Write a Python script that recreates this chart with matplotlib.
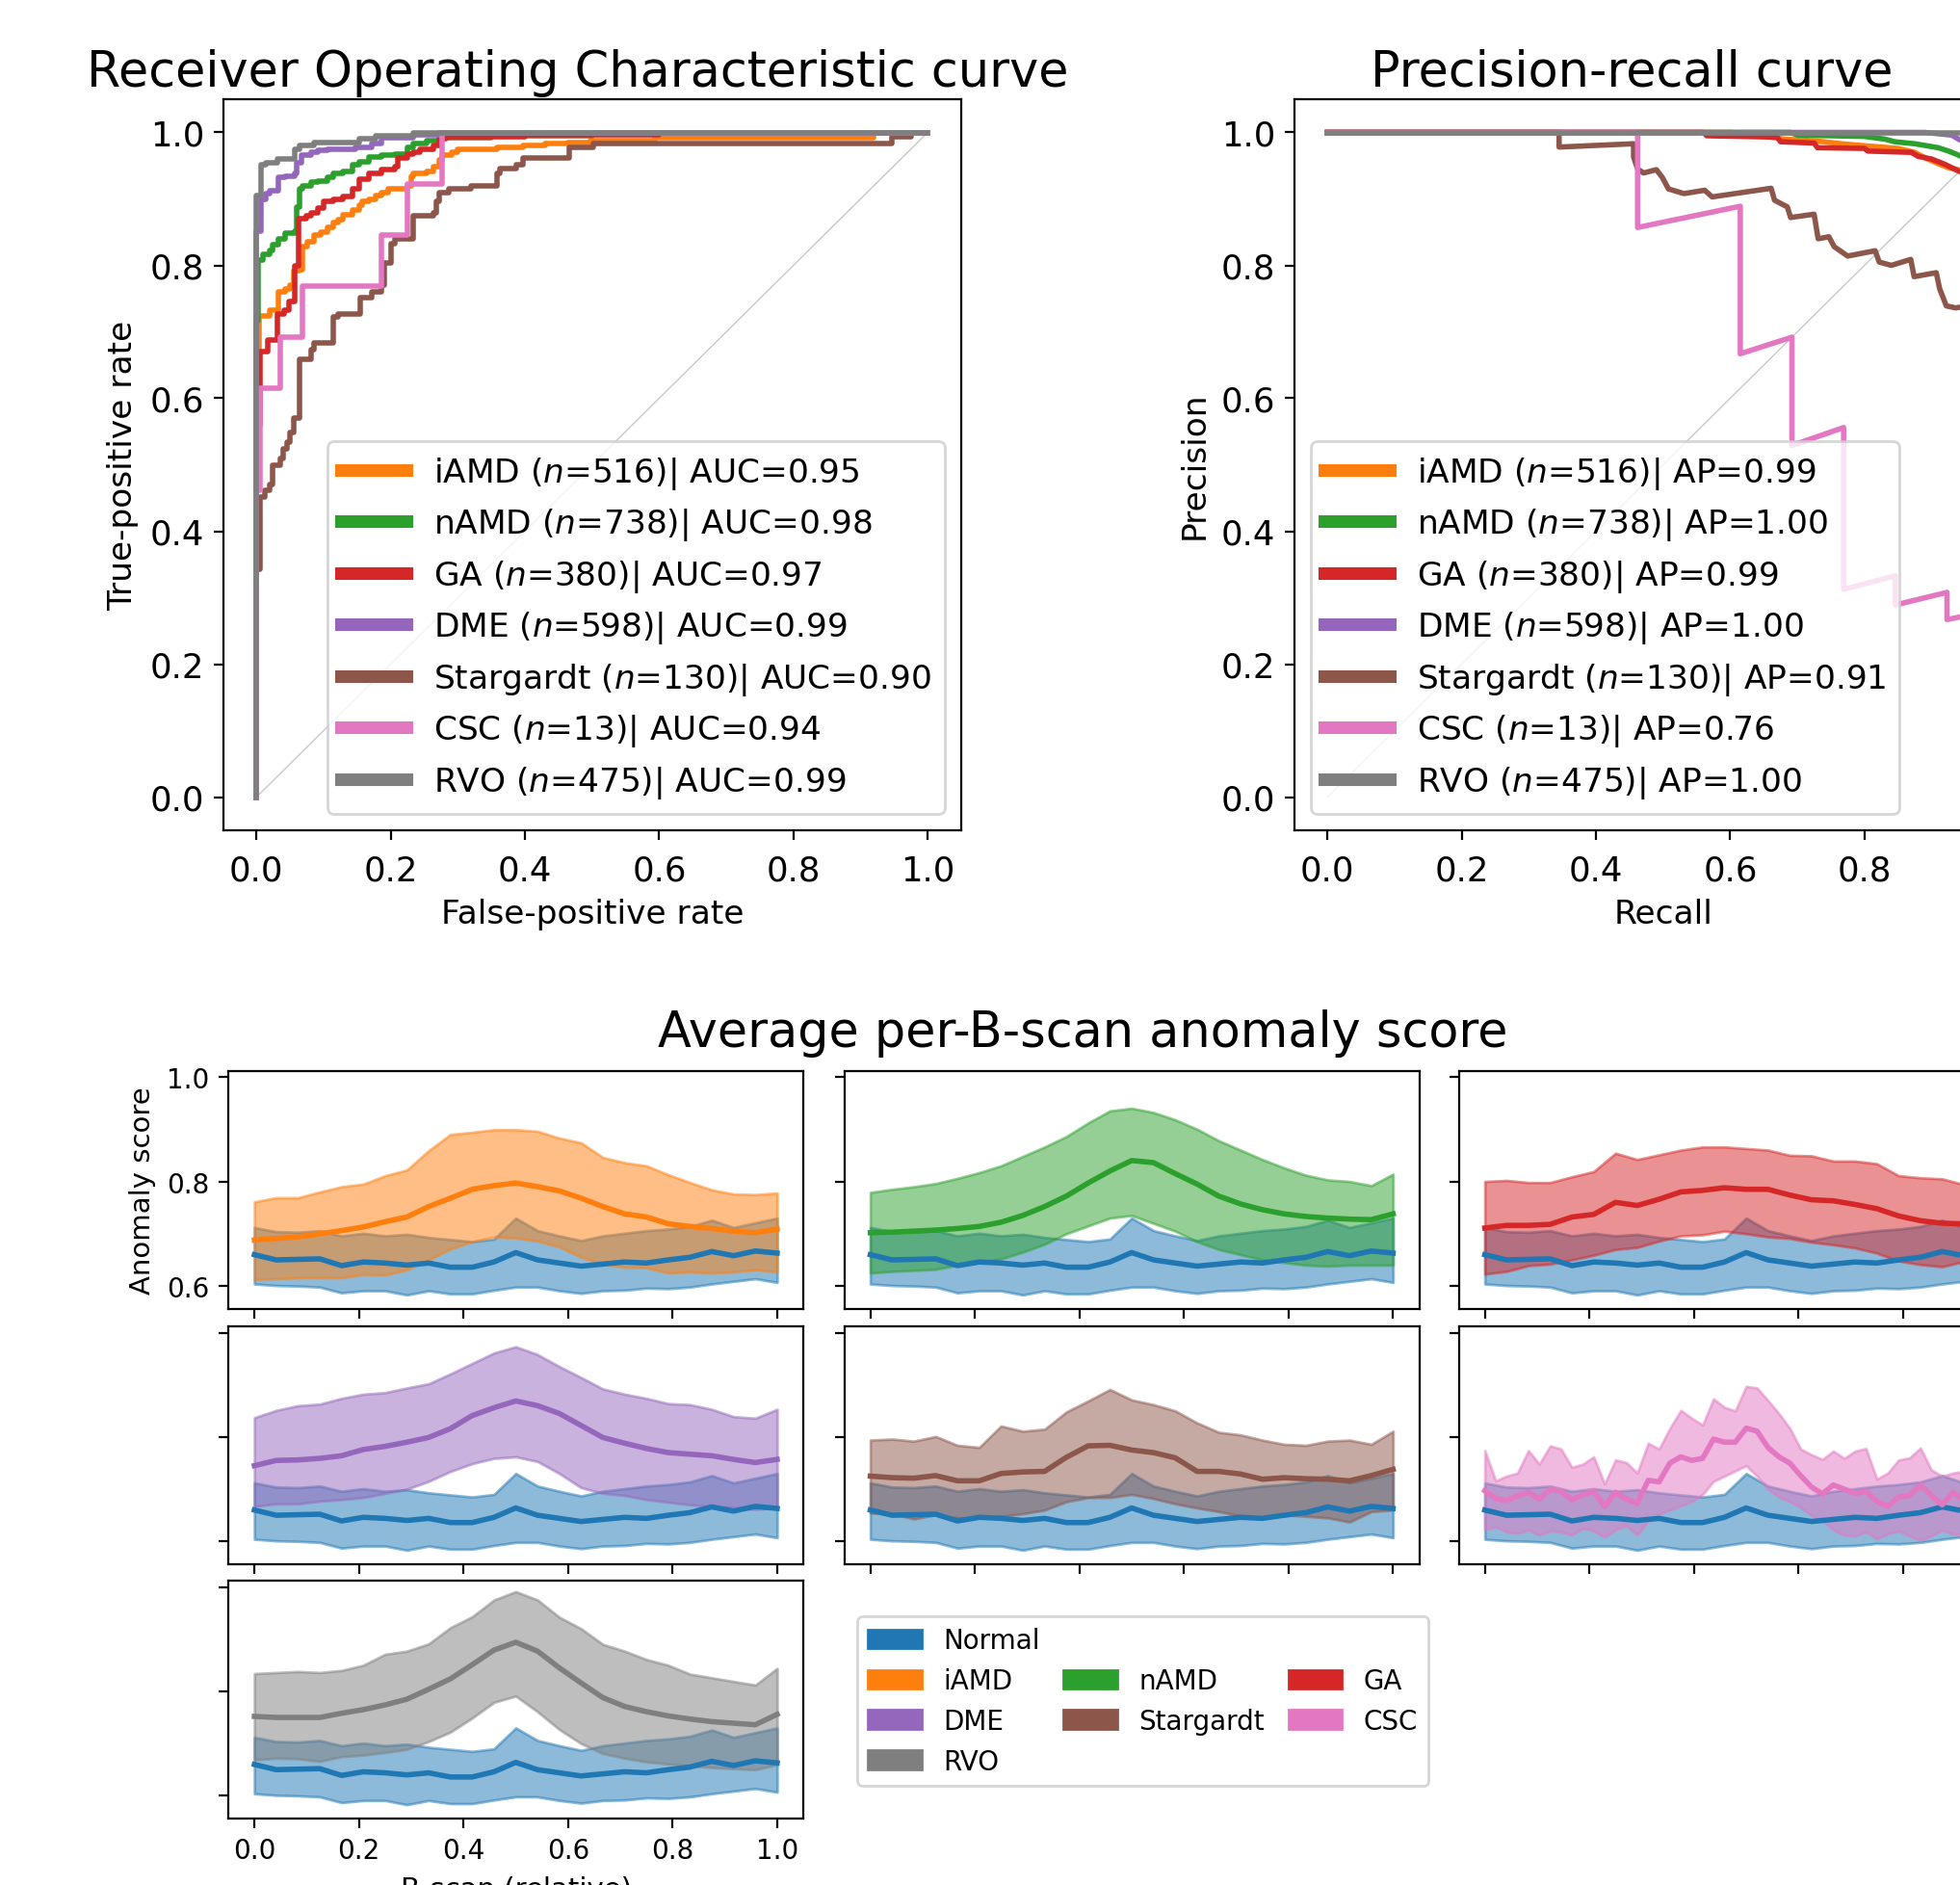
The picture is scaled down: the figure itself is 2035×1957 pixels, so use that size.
import numpy as np
import matplotlib
matplotlib.use("Agg")
import matplotlib.pyplot as plt
from matplotlib.patches import Patch

# ---------------- data ----------------
diseases = ["iAMD", "nAMD", "GA", "DME", "Stargardt", "CSC", "RVO"]
n_cases = [516, 738, 380, 598, 130, 13, 475]
auc_vals = ["0.95", "0.98", "0.97", "0.99", "0.90", "0.94", "0.99"]
ap_vals = ["0.99", "1.00", "0.99", "1.00", "0.91", "0.76", "1.00"]
colors = ["tab:orange", "tab:green", "tab:red", "tab:purple", "tab:brown", "tab:pink", "tab:gray"]
normal_color = "tab:blue"

# ROC curves (false-positive rate, true-positive rate), step corners
roc_fpr_iamd = [0, 0, 0.004, 0.019, 0.033, 0.043, 0.05, 0.055, 0.064, 0.069, 0.076, 0.086, 0.096, 0.105, 0.115, 0.122, 0.129, 0.143, 0.153, 0.158, 0.167, 0.177, 0.186, 0.196, 0.225, 0.23, 0.234, 0.253, 0.263, 0.272, 0.277, 0.291, 0.3, 0.358, 0.397, 0.43, 0.464, 0.497, 0.593, 0.92, 1.0]
roc_tpr_iamd = [0, 0.66, 0.724, 0.732, 0.76, 0.765, 0.77, 0.792, 0.794, 0.828, 0.835, 0.845, 0.85, 0.857, 0.864, 0.869, 0.876, 0.884, 0.891, 0.896, 0.9, 0.905, 0.91, 0.915, 0.92, 0.934, 0.939, 0.942, 0.949, 0.958, 0.966, 0.97, 0.975, 0.978, 0.98, 0.983, 0.985, 0.988, 0.992, 1.0, 1.0]
roc_fpr_namd = [0, 0, 0.003, 0.01, 0.019, 0.024, 0.033, 0.043, 0.057, 0.06, 0.064, 0.069, 0.081, 0.091, 0.105, 0.115, 0.129, 0.143, 0.153, 0.167, 0.186, 0.206, 0.225, 0.234, 0.253, 0.272, 0.35, 0.5, 1.0]
roc_tpr_namd = [0, 0.716, 0.808, 0.816, 0.823, 0.831, 0.84, 0.848, 0.852, 0.888, 0.915, 0.92, 0.925, 0.927, 0.932, 0.939, 0.942, 0.951, 0.956, 0.963, 0.966, 0.968, 0.978, 0.983, 0.988, 0.992, 0.995, 1.0, 1.0]
roc_fpr_ga = [0, 0, 0.005, 0.017, 0.031, 0.041, 0.048, 0.057, 0.062, 0.074, 0.081, 0.091, 0.1, 0.115, 0.129, 0.143, 0.153, 0.167, 0.186, 0.206, 0.21, 0.225, 0.234, 0.244, 0.263, 0.272, 0.282, 0.4, 0.6, 1.0]
roc_tpr_ga = [0, 0.56, 0.671, 0.688, 0.727, 0.732, 0.746, 0.799, 0.871, 0.874, 0.879, 0.886, 0.896, 0.9, 0.903, 0.915, 0.929, 0.939, 0.944, 0.949, 0.961, 0.968, 0.97, 0.975, 0.98, 0.99, 0.994, 0.997, 1.0, 1.0]
roc_fpr_dme = [0, 0, 0.007, 0.014, 0.019, 0.033, 0.043, 0.057, 0.06, 0.067, 0.081, 0.091, 0.105, 0.148, 0.172, 0.186, 0.234, 0.272, 1.0]
roc_tpr_dme = [0, 0.852, 0.9, 0.908, 0.913, 0.932, 0.934, 0.939, 0.954, 0.966, 0.97, 0.973, 0.975, 0.978, 0.983, 0.992, 0.996, 1.0, 1.0]
roc_fpr_stargardt = [0, 0, 0.005, 0.012, 0.019, 0.024, 0.035, 0.04, 0.045, 0.05, 0.055, 0.064, 0.081, 0.086, 0.115, 0.122, 0.155, 0.172, 0.186, 0.191, 0.2, 0.206, 0.234, 0.263, 0.268, 0.272, 0.287, 0.32, 0.358, 0.363, 0.387, 0.397, 0.466, 0.502, 0.947, 0.975, 1.0]
roc_tpr_stargardt = [0, 0.343, 0.451, 0.461, 0.47, 0.5, 0.51, 0.524, 0.534, 0.548, 0.57, 0.659, 0.673, 0.683, 0.722, 0.727, 0.751, 0.76, 0.77, 0.804, 0.833, 0.84, 0.874, 0.879, 0.896, 0.91, 0.915, 0.92, 0.939, 0.946, 0.951, 0.961, 0.978, 0.983, 0.993, 1.0, 1.0]
roc_fpr_csc = [0, 0, 0.005, 0.036, 0.069, 0.186, 0.225, 0.277, 1.0]
roc_tpr_csc = [0, 0.462, 0.615, 0.692, 0.769, 0.846, 0.923, 1.0, 1.0]
roc_fpr_rvo = [0, 0, 0.006, 0.014, 0.031, 0.057, 0.064, 0.086, 0.153, 0.177, 0.234, 1.0]
roc_tpr_rvo = [0, 0.905, 0.951, 0.955, 0.96, 0.975, 0.98, 0.985, 0.99, 0.995, 1.0, 1.0]

# Precision-recall curves (recall, precision)
pr_rec_iamd = [0, 0.6, 0.645, 0.68, 0.73, 0.765, 0.8, 0.85, 0.875, 0.89, 0.91, 0.925, 0.94, 0.97, 1.0]
pr_prec_iamd = [1.0, 1.0, 0.995, 0.99, 0.987, 0.983, 0.98, 0.976, 0.97, 0.962, 0.953, 0.947, 0.944, 0.93, 0.9]
pr_rec_namd = [0, 0.69, 0.70, 0.80, 0.83, 0.845, 0.875, 0.91, 0.925, 0.94, 0.97, 1.0]
pr_prec_namd = [1.0, 1.0, 0.996, 0.994, 0.99, 0.986, 0.983, 0.977, 0.972, 0.966, 0.95, 0.92]
pr_rec_ga = [0, 0.56, 0.565, 0.67, 0.675, 0.725, 0.73, 0.80, 0.805, 0.87, 0.88, 0.90, 0.92, 0.94, 0.97, 1.0]
pr_prec_ga = [1.0, 1.0, 0.995, 0.993, 0.986, 0.984, 0.977, 0.976, 0.972, 0.97, 0.964, 0.96, 0.952, 0.942, 0.93, 0.9]
pr_rec_dme = [0, 0.89, 0.93, 0.94, 1.0]
pr_prec_dme = [1.0, 1.0, 0.996, 0.99, 0.96]
pr_rec_stargardt = [0, 0.345, 0.345, 0.456, 0.456, 0.462, 0.471, 0.49, 0.499, 0.508, 0.531, 0.562, 0.573, 0.661, 0.666, 0.685, 0.69, 0.725, 0.731, 0.747, 0.755, 0.775, 0.816, 0.822, 0.84, 0.869, 0.874, 0.907, 0.912, 0.922, 0.936, 0.96, 0.965, 1.0]
pr_prec_stargardt = [1.0, 1.0, 0.978, 0.983, 0.963, 0.945, 0.939, 0.944, 0.932, 0.915, 0.908, 0.913, 0.903, 0.916, 0.898, 0.888, 0.872, 0.877, 0.84, 0.843, 0.828, 0.814, 0.822, 0.805, 0.8, 0.809, 0.783, 0.789, 0.765, 0.739, 0.736, 0.74, 0.72, 0.715]
pr_rec_csc = [0, 0.462, 0.462, 0.615, 0.615, 0.692, 0.692, 0.769, 0.769, 0.846, 0.846, 0.923, 0.923, 1.0, 1.0]
pr_prec_csc = [1.0, 1.0, 0.857, 0.889, 0.667, 0.692, 0.529, 0.556, 0.3125, 0.333, 0.289, 0.308, 0.267, 0.283, 0.27]
pr_rec_rvo = [0, 0.95, 1.0]
pr_prec_rvo = [1.0, 1.0, 0.99]

# Average per-B-scan anomaly score
bscan_pos = np.linspace(0, 1, 25)       # 25 sampled B-scan positions
csc_pos = np.linspace(0, 1, 49)         # CSC read at 49 positions (noisier curve)
normal_mean = [0.660, 0.650, 0.651, 0.652, 0.639, 0.646, 0.644, 0.640, 0.644, 0.636, 0.636, 0.646, 0.664, 0.650, 0.644, 0.638, 0.642, 0.646, 0.644, 0.650, 0.655, 0.666, 0.658, 0.667, 0.663]
normal_upper = [0.712, 0.704, 0.703, 0.706, 0.696, 0.701, 0.696, 0.699, 0.693, 0.689, 0.685, 0.690, 0.730, 0.706, 0.696, 0.687, 0.696, 0.701, 0.706, 0.709, 0.714, 0.726, 0.712, 0.721, 0.730]
normal_lower = [0.604, 0.601, 0.600, 0.598, 0.587, 0.591, 0.591, 0.583, 0.591, 0.585, 0.585, 0.592, 0.598, 0.598, 0.591, 0.586, 0.591, 0.592, 0.596, 0.595, 0.598, 0.604, 0.609, 0.614, 0.607]

iamd_mean = [0.688, 0.691, 0.694, 0.700, 0.706, 0.713, 0.723, 0.732, 0.752, 0.768, 0.785, 0.792, 0.797, 0.790, 0.782, 0.768, 0.752, 0.738, 0.732, 0.719, 0.714, 0.710, 0.705, 0.702, 0.709]
iamd_upper = [0.761, 0.769, 0.769, 0.780, 0.790, 0.795, 0.811, 0.822, 0.859, 0.890, 0.894, 0.899, 0.899, 0.896, 0.883, 0.874, 0.846, 0.836, 0.830, 0.813, 0.798, 0.784, 0.776, 0.775, 0.778]
iamd_lower = [0.612, 0.614, 0.616, 0.616, 0.616, 0.622, 0.621, 0.631, 0.650, 0.671, 0.685, 0.694, 0.692, 0.686, 0.675, 0.655, 0.642, 0.636, 0.635, 0.625, 0.627, 0.625, 0.627, 0.631, 0.627]

namd_mean = [0.702, 0.703, 0.705, 0.707, 0.710, 0.714, 0.722, 0.735, 0.752, 0.772, 0.797, 0.820, 0.840, 0.836, 0.815, 0.795, 0.772, 0.757, 0.746, 0.738, 0.733, 0.730, 0.728, 0.727, 0.738]
namd_upper = [0.779, 0.785, 0.790, 0.796, 0.806, 0.817, 0.830, 0.848, 0.866, 0.886, 0.912, 0.935, 0.940, 0.932, 0.918, 0.900, 0.878, 0.860, 0.842, 0.826, 0.812, 0.803, 0.800, 0.792, 0.814]
namd_lower = [0.625, 0.628, 0.630, 0.632, 0.640, 0.645, 0.652, 0.665, 0.680, 0.700, 0.715, 0.730, 0.735, 0.720, 0.705, 0.685, 0.670, 0.660, 0.650, 0.645, 0.640, 0.638, 0.640, 0.640, 0.640]

ga_mean = [0.711, 0.716, 0.716, 0.718, 0.732, 0.737, 0.760, 0.754, 0.766, 0.780, 0.783, 0.788, 0.785, 0.785, 0.774, 0.765, 0.763, 0.756, 0.748, 0.734, 0.725, 0.720, 0.719, 0.717, 0.721]
ga_upper = [0.800, 0.802, 0.798, 0.798, 0.809, 0.819, 0.854, 0.842, 0.851, 0.860, 0.866, 0.866, 0.863, 0.860, 0.850, 0.849, 0.839, 0.839, 0.834, 0.811, 0.807, 0.805, 0.794, 0.793, 0.796]
ga_lower = [0.623, 0.628, 0.639, 0.642, 0.650, 0.659, 0.670, 0.674, 0.686, 0.696, 0.698, 0.705, 0.700, 0.694, 0.691, 0.684, 0.679, 0.673, 0.663, 0.648, 0.641, 0.637, 0.647, 0.651, 0.642]

dme_mean = [0.745, 0.755, 0.756, 0.759, 0.764, 0.776, 0.782, 0.790, 0.799, 0.816, 0.841, 0.856, 0.869, 0.860, 0.845, 0.822, 0.799, 0.788, 0.778, 0.770, 0.767, 0.764, 0.757, 0.751, 0.757]
dme_upper = [0.837, 0.851, 0.860, 0.863, 0.874, 0.882, 0.885, 0.894, 0.902, 0.921, 0.941, 0.961, 0.973, 0.958, 0.935, 0.914, 0.892, 0.882, 0.874, 0.864, 0.862, 0.853, 0.839, 0.836, 0.853]
dme_lower = [0.667, 0.672, 0.672, 0.677, 0.680, 0.684, 0.692, 0.700, 0.715, 0.734, 0.749, 0.759, 0.762, 0.753, 0.730, 0.703, 0.692, 0.688, 0.680, 0.675, 0.670, 0.667, 0.665, 0.661, 0.665]

stargardt_mean = [0.725, 0.722, 0.721, 0.726, 0.716, 0.716, 0.730, 0.733, 0.734, 0.761, 0.783, 0.784, 0.775, 0.770, 0.760, 0.734, 0.734, 0.729, 0.719, 0.722, 0.720, 0.719, 0.716, 0.726, 0.738]
stargardt_upper = [0.794, 0.796, 0.792, 0.801, 0.784, 0.780, 0.821, 0.811, 0.815, 0.848, 0.869, 0.891, 0.871, 0.862, 0.850, 0.827, 0.809, 0.804, 0.794, 0.786, 0.784, 0.792, 0.794, 0.786, 0.811]
stargardt_lower = [0.654, 0.653, 0.643, 0.651, 0.645, 0.645, 0.648, 0.653, 0.660, 0.676, 0.684, 0.684, 0.690, 0.682, 0.672, 0.664, 0.657, 0.649, 0.645, 0.651, 0.648, 0.645, 0.637, 0.657, 0.660]

csc_mean = [0.697, 0.682, 0.678, 0.687, 0.694, 0.681, 0.700, 0.696, 0.680, 0.689, 0.696, 0.667, 0.694, 0.681, 0.673, 0.717, 0.714, 0.750, 0.762, 0.755, 0.759, 0.796, 0.790, 0.790, 0.817, 0.811, 0.780, 0.762, 0.750, 0.726, 0.704, 0.691, 0.708, 0.700, 0.692, 0.696, 0.676, 0.667, 0.685, 0.688, 0.708, 0.688, 0.670, 0.694, 0.679, 0.685, 0.691, 0.682, 0.688]
csc_upper = [0.774, 0.716, 0.725, 0.731, 0.774, 0.748, 0.783, 0.777, 0.742, 0.748, 0.762, 0.710, 0.756, 0.751, 0.731, 0.788, 0.777, 0.817, 0.851, 0.836, 0.823, 0.873, 0.857, 0.850, 0.897, 0.894, 0.870, 0.845, 0.817, 0.777, 0.766, 0.757, 0.773, 0.759, 0.773, 0.778, 0.719, 0.731, 0.756, 0.760, 0.779, 0.737, 0.725, 0.731, 0.734, 0.743, 0.731, 0.740, 0.750]
csc_lower = [0.622, 0.628, 0.618, 0.615, 0.622, 0.612, 0.620, 0.618, 0.612, 0.625, 0.620, 0.608, 0.622, 0.630, 0.612, 0.640, 0.652, 0.660, 0.668, 0.676, 0.690, 0.715, 0.725, 0.735, 0.745, 0.725, 0.700, 0.685, 0.676, 0.665, 0.650, 0.640, 0.622, 0.612, 0.610, 0.618, 0.605, 0.614, 0.620, 0.610, 0.602, 0.610, 0.622, 0.614, 0.612, 0.620, 0.614, 0.618, 0.622]

rvo_mean = [0.752, 0.750, 0.750, 0.750, 0.758, 0.765, 0.774, 0.785, 0.804, 0.824, 0.851, 0.879, 0.894, 0.877, 0.845, 0.816, 0.788, 0.771, 0.761, 0.753, 0.747, 0.742, 0.739, 0.736, 0.756]
rvo_upper = [0.834, 0.836, 0.838, 0.836, 0.840, 0.850, 0.871, 0.877, 0.891, 0.922, 0.943, 0.975, 0.991, 0.975, 0.942, 0.920, 0.890, 0.877, 0.861, 0.850, 0.833, 0.826, 0.819, 0.812, 0.844]
rvo_lower = [0.669, 0.672, 0.671, 0.666, 0.675, 0.678, 0.683, 0.689, 0.704, 0.722, 0.749, 0.779, 0.791, 0.761, 0.727, 0.700, 0.681, 0.672, 0.665, 0.661, 0.658, 0.654, 0.652, 0.650, 0.660]

roc_fpr = [roc_fpr_iamd, roc_fpr_namd, roc_fpr_ga, roc_fpr_dme, roc_fpr_stargardt, roc_fpr_csc, roc_fpr_rvo]
roc_tpr = [roc_tpr_iamd, roc_tpr_namd, roc_tpr_ga, roc_tpr_dme, roc_tpr_stargardt, roc_tpr_csc, roc_tpr_rvo]
pr_rec = [pr_rec_iamd, pr_rec_namd, pr_rec_ga, pr_rec_dme, pr_rec_stargardt, pr_rec_csc, pr_rec_rvo]
pr_prec = [pr_prec_iamd, pr_prec_namd, pr_prec_ga, pr_prec_dme, pr_prec_stargardt, pr_prec_csc, pr_prec_rvo]
d_mean = [iamd_mean, namd_mean, ga_mean, dme_mean, stargardt_mean, csc_mean, rvo_mean]
d_upper = [iamd_upper, namd_upper, ga_upper, dme_upper, stargardt_upper, csc_upper, rvo_upper]
d_lower = [iamd_lower, namd_lower, ga_lower, dme_lower, stargardt_lower, csc_lower, rvo_lower]
d_pos = [bscan_pos, bscan_pos, bscan_pos, bscan_pos, bscan_pos, csc_pos, bscan_pos]

# ---------------- figure ----------------
plt.rcParams["font.family"] = ["DejaVu Sans"]
W, H, DPI = 2035, 1958, 200
fig = plt.figure(figsize=(W / DPI, H / DPI), dpi=DPI)


def add_ax(l, t, r, b):
    return fig.add_axes([l / W, 1 - b / H, (r - l) / W, (b - t) / H])


TOP_FS = 12.4
TICK_FS = 12.8
TITLE_FS = 18.3
LW = 2.0

# ROC
ax_roc = add_ax(231.5, 104, 998, 863)
ax_roc.plot([0, 1], [0, 1], color="#c8c8c8", lw=0.5)
for i, d in enumerate(diseases):
    ax_roc.plot(roc_fpr[i], roc_tpr[i], drawstyle="steps-post", color=colors[i], lw=LW,
                label=f"{d} ($n$={n_cases[i]})| AUC={auc_vals[i]}")
ax_roc.set_xlabel("False-positive rate", fontsize=TOP_FS)
ax_roc.set_ylabel("True-positive rate", fontsize=TOP_FS)
ax_roc.tick_params(labelsize=TICK_FS)
ax_roc.tick_params(axis="x", pad=5.5)
leg = ax_roc.legend(loc="lower right", fontsize=TOP_FS, handlelength=2.0, labelspacing=0.45)
for ln in leg.get_lines():
    ln.set_linewidth(4.7)

# PR
ax_pr = add_ax(1343.5, 104, 2110, 863)
ax_pr.plot([0, 1], [0, 1], color="#c8c8c8", lw=0.5)
for i, d in enumerate(diseases):
    ax_pr.plot(pr_rec[i], pr_prec[i], color=colors[i], lw=LW,
               label=f"{d} ($n$={n_cases[i]})| AP={ap_vals[i]}")
ax_pr.set_xlabel("Recall", fontsize=TOP_FS)
ax_pr.set_ylabel("Precision", fontsize=TOP_FS)
ax_pr.tick_params(labelsize=TICK_FS)
ax_pr.tick_params(axis="x", pad=5.5)
leg2 = ax_pr.legend(loc="lower left", fontsize=TOP_FS, handlelength=2.0, labelspacing=0.45)
for ln in leg2.get_lines():
    ln.set_linewidth(4.7)

fig.text(600 / W, 1 - 90 / H, "Receiver Operating Characteristic curve", ha="center", va="baseline", fontsize=TITLE_FS)
fig.text(1694 / W, 1 - 90 / H, "Precision-recall curve", ha="center", va="baseline", fontsize=TITLE_FS)
fig.text(1124 / W, 1 - 1087 / H, "Average per-B-scan anomaly score", ha="center", va="baseline", fontsize=TITLE_FS)

# Anomaly score panels
col_l = [237, 876.5, 1514.5]
col_w = 597
rows = [(1112.5, 1359.5), (1378, 1624.5), (1642, 1888.7)]
slots = [(0, 0), (0, 1), (0, 2), (1, 0), (1, 1), (1, 2), (2, 0)]
for i, d in enumerate(diseases):
    r, c = slots[i]
    ax = add_ax(col_l[c], rows[r][0], col_l[c] + col_w, rows[r][1])
    ax.fill_between(bscan_pos, normal_lower, normal_upper, color=normal_color, alpha=0.5)
    ax.plot(bscan_pos, normal_mean, color=normal_color, lw=LW)
    ax.fill_between(d_pos[i], d_lower[i], d_upper[i], color=colors[i], alpha=0.5)
    ax.plot(d_pos[i], d_mean[i], color=colors[i], lw=LW)
    ax.set_xlim(-0.05, 1.05)
    ax.set_ylim(0.557, 1.012)
    ax.set_yticks([0.6, 0.8, 1.0])
    ax.set_xticks([0, 0.2, 0.4, 0.6, 0.8, 1.0])
    ax.tick_params(labelsize=10)
    if i == 0:
        ax.set_ylabel("Anomaly score", fontsize=10.5)
    else:
        ax.set_yticklabels([])
    if i == 6:
        ax.set_xlabel("B-scan (relative)", fontsize=10.5)
    else:
        ax.set_xticklabels([])

# legend for the anomaly panels
blank = Patch(visible=False)
handles = [Patch(color=normal_color), Patch(color=colors[0]), Patch(color=colors[3]), Patch(color=colors[6]),
           blank, Patch(color=colors[1]), Patch(color=colors[4]), blank,
           blank, Patch(color=colors[2]), Patch(color=colors[5]), blank]
labels = ["Normal", diseases[0], diseases[3], diseases[6],
          "", diseases[1], diseases[4], "",
          "", diseases[2], diseases[5], ""]
fig.legend(handles, labels, loc="upper left", bbox_to_anchor=(890 / W, 1 - 1679 / H), borderaxespad=0,
           ncol=3, fontsize=10, labelspacing=0.5, columnspacing=0.9)

fig.savefig("out.png", dpi=DPI)
